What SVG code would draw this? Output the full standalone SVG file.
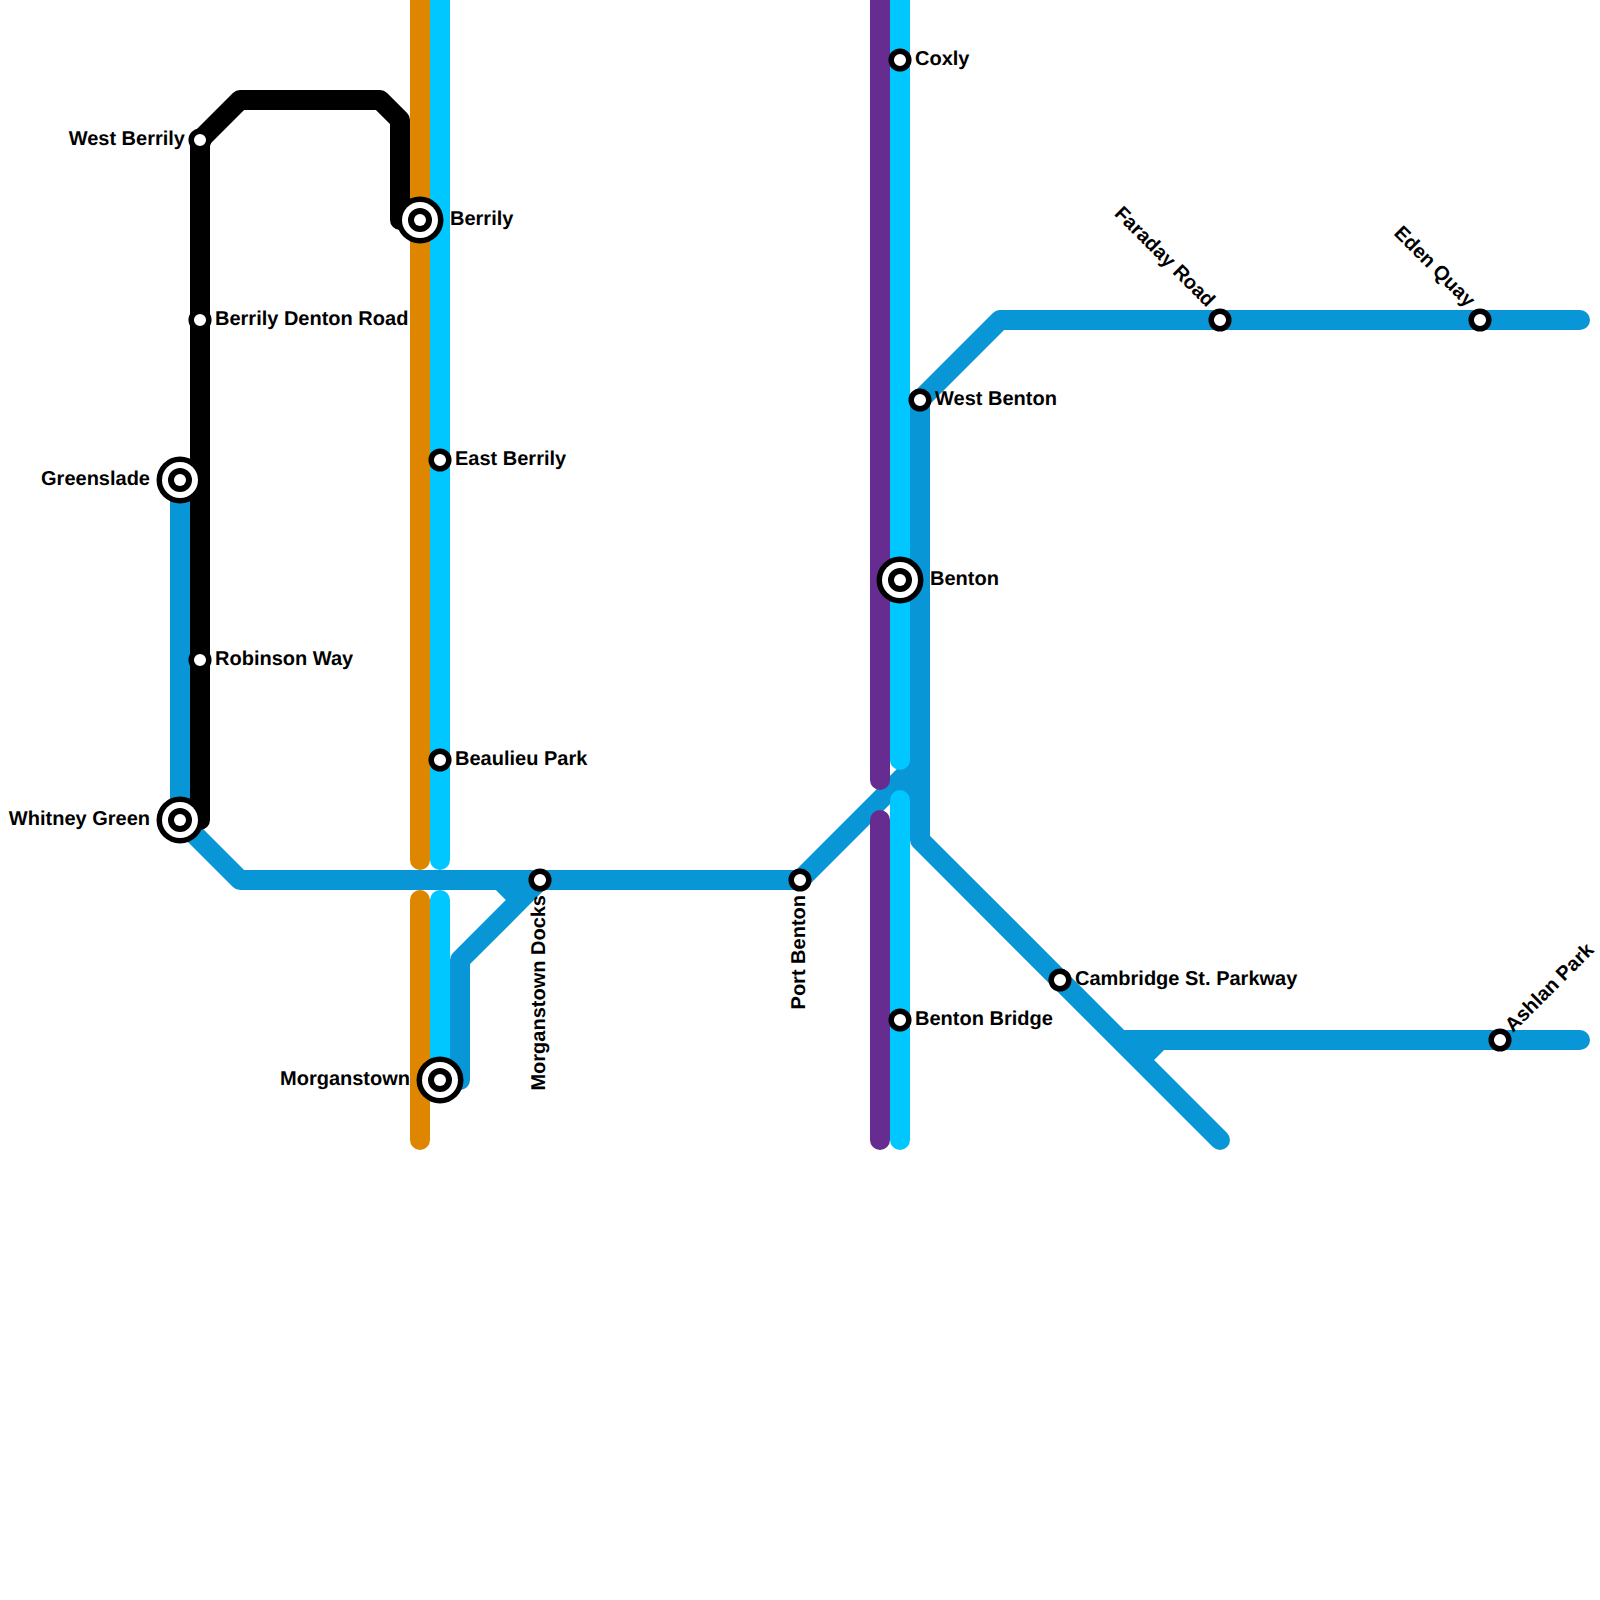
<svg xmlns="http://www.w3.org/2000/svg" width="1600" height="1600" viewBox="0 0 1600 1600">
<defs>
<style>
.l{fill:none;stroke-width:20;stroke-linecap:round;stroke-linejoin:round}
.blue{stroke:#0896d7}.orange{stroke:#df8600}.cyan{stroke:#00c7ff}.purple{stroke:#662c90}.black{stroke:#000}
.s{fill:#fff;stroke:#000;stroke-width:5.5}
.o{fill:#000}.w{fill:#fff}
text{font-family:"Liberation Sans",Arial,sans-serif;font-weight:700;font-size:20px;fill:#000;text-rendering:geometricPrecision}
.e{text-anchor:end}
</style>
<g id="small"><circle class="s" r="8.8"/></g>
<g id="big"><circle class="o" r="23.5"/><circle class="w" r="18"/><circle class="o" r="12"/><circle class="w" r="6"/></g>
</defs>
<rect width="1600" height="1600" fill="#fff"/>
<g id="connectors">
<path class="l blue" d="M180 480V820L240 880H800L920 760M900 780L920 800"/>
<path class="l blue" d="M500 880L520 900L460 960V1080H440M520 900L540 880"/>
<path class="l blue" d="M1000 320H1580M920 400L1000 320M920 400V840L1220 1140M1120 1040H1580M1160 1040L1140 1060"/>
<path class="l black" d="M180 820H200V140L240 100H380L400 120V220H420"/>
<path class="l orange" d="M420 0V860M420 900V1140"/>
<path class="l cyan" d="M440 0V860M440 900V1080"/>
<path class="l purple" d="M880 0V780M880 820V1140"/>
<path class="l cyan" d="M900 0V760M900 800V1140"/>
</g>
<g id="west-berrily"><use href="#small" x="200" y="140"/><text class="e" x="185" y="145">West Berrily</text></g>
<g id="berrily-denton-road"><use href="#small" x="200" y="320"/><text x="215" y="325">Berrily Denton Road</text></g>
<g id="robinson-way"><use href="#small" x="200" y="660"/><text x="215" y="665">Robinson Way</text></g>
<g id="greenslade"><use href="#big" x="180" y="480"/><text class="e" x="150" y="485">Greenslade</text></g>
<g id="whitney-green"><use href="#big" x="180" y="820"/><text class="e" x="150" y="825">Whitney Green</text></g>
<g id="berrily"><use href="#big" x="420" y="220"/><text x="450" y="225">Berrily</text></g>
<g id="east-berrily"><use href="#small" x="440" y="460"/><text x="455" y="465">East Berrily</text></g>
<g id="beaulieu-park"><use href="#small" x="440" y="760"/><text x="455" y="765">Beaulieu Park</text></g>
<g id="morganstown"><use href="#big" x="440" y="1080"/><text class="e" x="410" y="1085">Morganstown</text></g>
<g id="morganstown-docks"><use href="#small" x="540" y="880"/><text class="e" transform="translate(545 895) rotate(-90)">Morganstown Docks</text></g>
<g id="port-benton"><use href="#small" x="800" y="880"/><text class="e" transform="translate(805 895) rotate(-90)">Port Benton</text></g>
<g id="coxly"><use href="#small" x="900" y="60"/><text x="915" y="65">Coxly</text></g>
<g id="west-benton"><use href="#small" x="920" y="400"/><text x="935" y="405">West Benton</text></g>
<g id="benton"><use href="#big" x="900" y="580"/><text x="930" y="585">Benton</text></g>
<g id="benton-bridge"><use href="#small" x="900" y="1020"/><text x="915" y="1025">Benton Bridge</text></g>
<g id="cambridge-st-parkway"><use href="#small" x="1060" y="980"/><text x="1075" y="985">Cambridge St. Parkway</text></g>
<g id="faraday-road"><use href="#small" x="1220" y="320"/><text class="e" transform="translate(1207 308) rotate(45)">Faraday Road</text></g>
<g id="eden-quay"><use href="#small" x="1480" y="320"/><text class="e" transform="translate(1467 308) rotate(45)">Eden Quay</text></g>
<g id="ashlan-park"><use href="#small" x="1500" y="1040"/><text transform="translate(1513 1033) rotate(-45)">Ashlan Park</text></g>
</svg>
